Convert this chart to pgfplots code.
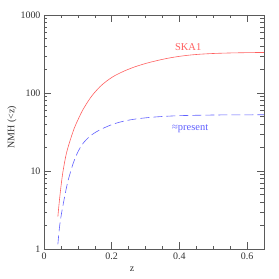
\documentclass[border=0pt]{standalone}
\usepackage{fontspec}
\setmainfont{Liberation Serif}
\usepackage{pgfplots}
\pgfplotsset{compat=1.18}
\definecolor{skared}{RGB}{255,95,95}
\definecolor{presblue}{RGB}{95,95,255}
\definecolor{axgray}{RGB}{90,90,90}
\begin{document}
\begin{tikzpicture}
\begin{axis}[
  at={(0,0)}, anchor=south west,
  scale only axis, width=220bp, height=234bp,
  xmin=0, xmax=0.65, ymin=1, ymax=1000, ymode=log,
  xtick={0,0.2,0.4,0.6}, xticklabels={0,0.2,0.4,0.6}, minor x tick num=3,
  ytick={1,10,100,1000}, yticklabels={1,10,100,1000},
  tick align=inside, xtick pos=both, ytick pos=both,
  major tick length=7bp, minor tick length=3.5bp,
  axis line style={axgray, line width=0.6bp},
  every tick/.style={axgray, line width=0.5bp},
  tick label style={font=\fontsize{10}{12}\selectfont, text=black!80},
  /pgf/number format/assume math mode=true,
  xlabel={z}, ylabel={NMH (<z)},
  label style={font=\fontsize{10}{12}\selectfont, text=black!80},
  xlabel style={at={(axis description cs:0.4,-0.085)}, anchor=center},
  ylabel style={at={(axis description cs:-0.145,0.52)}, anchor=center, rotate=0},
]
\addplot[skared, line width=0.6bp, smooth, tension=0.5] coordinates {
(0.041,2.6)(0.044,3.6)(0.047,4.8)(0.051,6.8)(0.056,9.8)(0.065,16)(0.075,23)(0.089,35)(0.100,45)(0.114,60)(0.130,78)(0.144,95)(0.165,120)(0.183,140)(0.205,163)(0.232,187)(0.26,210)(0.29,232)(0.311,246)(0.34,264)(0.37,281)(0.40,295)(0.43,306)(0.46,314)(0.50,321)(0.55,326)(0.60,329)(0.65,331)
};
\addplot[presblue, line width=0.6bp, dash pattern=on 9bp off 4bp, smooth, tension=0.5] coordinates {
(0.041,1.15)(0.044,1.6)(0.047,2.1)(0.052,2.9)(0.057,3.8)(0.063,5.2)(0.070,7.2)(0.078,9.6)(0.087,12.8)(0.100,17.5)(0.115,22.5)(0.134,27.5)(0.153,31.5)(0.173,35)(0.195,38.5)(0.213,41)(0.24,44)(0.272,46.5)(0.31,48.5)(0.35,50)(0.40,51.2)(0.45,51.8)(0.50,52.2)(0.55,52.4)(0.65,52.6)
};
\node[text=skared, font=\fontsize{10.5}{12}\selectfont] at (axis cs:0.426,389) {SKA1};
\node[text=presblue, font=\fontsize{10.5}{12}\selectfont] at (axis cs:0.432,34.6) {≈present};
\end{axis}
\pgfresetboundingbox
\useasboundingbox (-44bp,-30bp) rectangle (235bp,249bp);
\end{tikzpicture}
\end{document}
